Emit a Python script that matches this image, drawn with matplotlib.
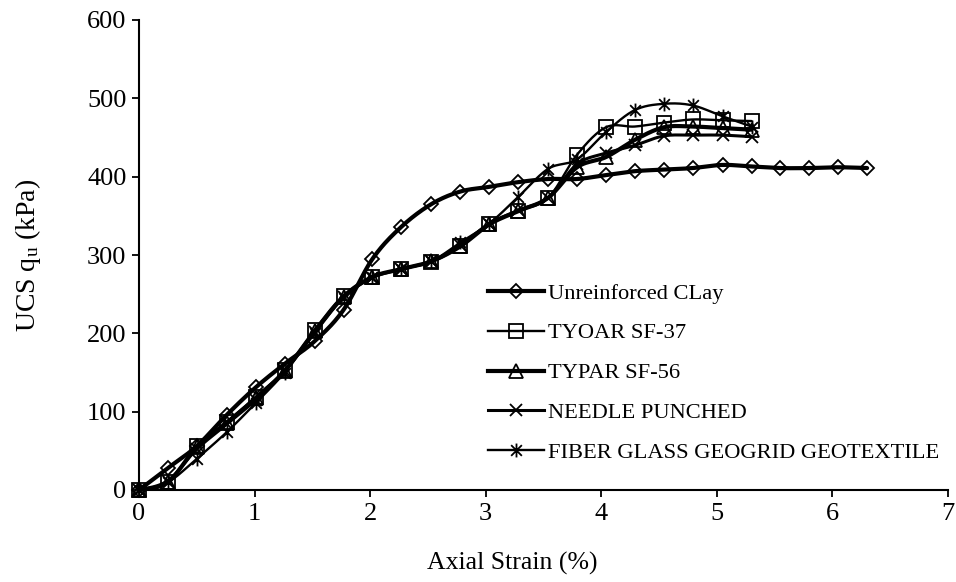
import numpy as np
import matplotlib
matplotlib.use("Agg")
import matplotlib.pyplot as plt
from matplotlib.lines import Line2D
from matplotlib.path import Path

plt.rcParams['font.family'] = ['Liberation Serif', 'DejaVu Serif']
plt.rcParams['mathtext.fontset'] = 'custom'
plt.rcParams['mathtext.rm'] = 'Liberation Serif'
plt.rcParams['mathtext.it'] = 'Liberation Serif:italic'

# ---- data ----
strain = [0, 0.25, 0.50, 0.76, 1.01, 1.26, 1.52, 1.77, 2.02, 2.27, 2.53, 2.78, 3.03,
          3.28, 3.54, 3.79, 4.04, 4.29, 4.54, 4.79, 5.05, 5.30, 5.55, 5.80, 6.05, 6.30]
unreinforced = [0, 28, 56, 96, 131, 161, 190, 230, 295, 336, 365, 381, 387, 393, 397,
                397, 402, 407, 409, 411, 415, 413, 411, 411, 412, 411]
tyoar_sf37 = [0, 10, 56, 87, 119, 153, 204, 248, 272, 282, 291, 311, 340, 356, 373,
              428, 463, 464, 469, 473, 472, 471]
typar_sf56 = [0, 10, 55, 86, 117, 152, 203, 247, 272, 282, 292, 311, 339, 356, 373,
              412, 425, 447, 463, 464, 462, 460]
needle_punched = [0, 12, 52, 84, 115, 152, 202, 246, 271, 282, 292, 313, 340, 357, 373,
                  416, 430, 440, 452, 453, 453, 451]
fiber_glass = [0, 10, 40, 74, 111, 150, 200, 245, 272, 282, 292, 316, 340, 374, 410,
               422, 457, 485, 493, 491, 477, 464]
labels = ["Unreinforced CLay", "TYOAR SF-37", "TYPAR SF-56", "NEEDLE PUNCHED",
          "FIBER GLASS GEOGRID GEOTEXTILE"]
x_ticks = [0, 1, 2, 3, 4, 5, 6, 7]
y_ticks = [0, 100, 200, 300, 400, 500, 600]


def smooth(x, y, n=24):
    pts = np.column_stack([x, y]).astype(float)
    P = np.vstack([pts[0], pts, pts[-1]])
    t = np.linspace(0, 1, n)[:, None]
    segs = []
    for i in range(1, len(P) - 2):
        p0, p1, p2, p3 = P[i - 1], P[i], P[i + 1], P[i + 2]
        c1 = p1 + (p2 - p0) / 6.0
        c2 = p2 - (p3 - p1) / 6.0
        B = ((1 - t) ** 3) * p1 + 3 * ((1 - t) ** 2) * t * c1 + 3 * (1 - t) * t ** 2 * c2 + t ** 3 * p2
        segs.append(B if i == 1 else B[1:])
    c = np.vstack(segs)
    return c[:, 0], c[:, 1]


asterisk = Path([(-1, -1), (1, 1), (-1, 1), (1, -1), (0, -1.3), (0, 1.3)],
                [Path.MOVETO, Path.LINETO, Path.MOVETO, Path.LINETO, Path.MOVETO, Path.LINETO])

series = [
    (unreinforced, 'D', 7.5, 3.0),
    (tyoar_sf37, 's', 10, 1.7),
    (typar_sf56, '^', 10, 3.0),
    (needle_punched, 'x', 9, 2.2),
    (fiber_glass, asterisk, 10, 1.7),
]

fig = plt.figure(figsize=(9.56, 5.82), dpi=100)
L, R, B, T = 139, 948, 490, 20
ax = fig.add_axes([L / 956, 1 - B / 582, (R - L) / 956, (B - T) / 582])

handles = []
for (vals, mk, ms, lw), lab in zip(series, labels):
    xs = strain[:len(vals)]
    sx, sy = smooth(xs, vals)
    ax.plot(sx, sy, color='black', lw=lw, solid_capstyle='round', zorder=2, clip_on=False)
    ax.plot(xs, vals, linestyle='none', marker=mk, markersize=ms, markerfacecolor='none',
            markeredgecolor='black', markeredgewidth=1.3, zorder=3, clip_on=False)
    handles.append(Line2D([], [], color='black', lw=lw, marker=mk, markersize=ms,
                          markerfacecolor='none', markeredgecolor='black',
                          markeredgewidth=1.3))

ax.set_xlim(0, 7)
ax.set_ylim(0, 600)
ax.set_xticks(x_ticks)
ax.set_yticks(y_ticks)
for s in ['top', 'right']:
    ax.spines[s].set_visible(False)
for s in ['left', 'bottom']:
    ax.spines[s].set_linewidth(1.5)
ax.tick_params(direction='out', length=5, width=1.3, labelsize=19, pad=4)
ax.set_xlabel("Axial Strain (%)", fontsize=18.5)
ax.xaxis.set_label_coords((512 - L) / (R - L), -(563 - B) / (B - T), transform=ax.transAxes)
ax.xaxis.label.set_va('center')
ax.set_ylabel(r"UCS q$_{\mathrm{u}}$ (kPa)", fontsize=20)
ax.yaxis.set_label_coords(-(L - 28) / (R - L), (B - 255) / (B - T), transform=ax.transAxes)
ax.yaxis.label.set_va('center')

leg = ax.legend(handles, labels, loc='center left',
                bbox_to_anchor=((488 - L) / (R - L), (B - 373) / (B - T)),
                frameon=False, fontsize=16.2, handlelength=2.5, handletextpad=0.15,
                labelspacing=0.85, borderpad=0, borderaxespad=0)

fig.savefig("out.png", dpi=100)
